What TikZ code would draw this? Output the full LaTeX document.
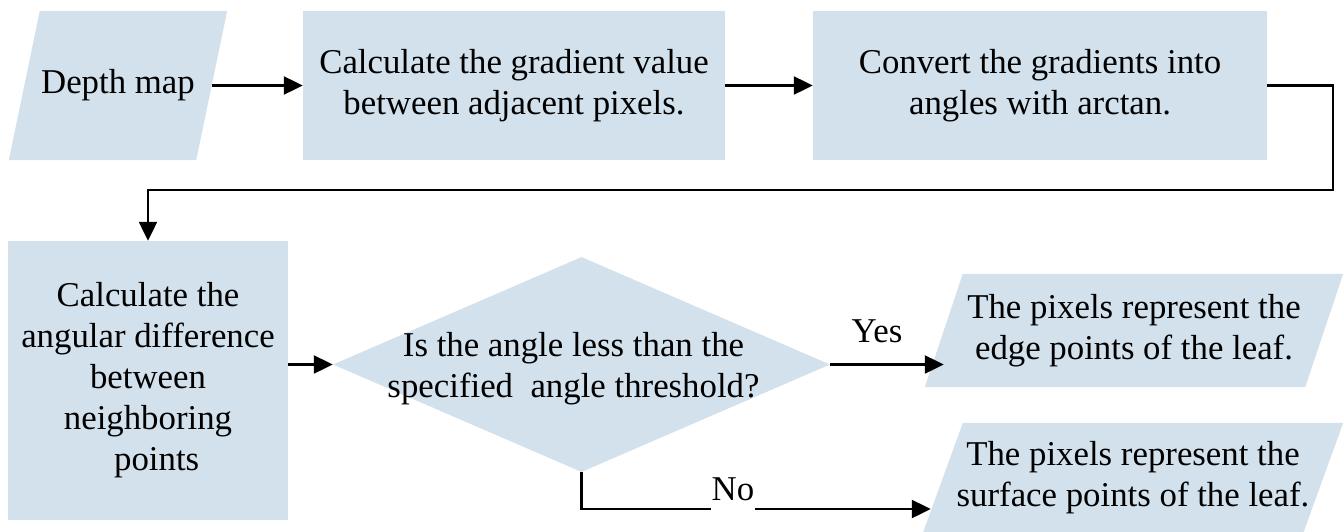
\documentclass[tikz,border=0pt]{standalone}
\usepackage{fontspec}
\setmainfont{Liberation Serif}
\usetikzlibrary{arrows.meta,shapes.geometric,calc,backgrounds}
\definecolor{boxfill}{RGB}{210,225,236}
% filled parallelogram around a named node: #1 = node, #2 = half the horizontal slant
\newcommand{\slantfill}[2]{%
  \fill[boxfill] ($(#1.south west)+(-#2,0)$) -- ($(#1.north west)+(#2,0)$)
    -- ($(#1.north east)+(#2,0)$) -- ($(#1.south east)+(-#2,0)$) -- cycle;}
\begin{document}
\begin{tikzpicture}[x=1pt,y=-1pt,
  every node/.style={font=\fontsize{34.8}{41}\selectfont},
  proc/.style={rectangle, fill=boxfill, inner sep=0pt, align=center},
  io/.style={rectangle, inner sep=0pt, align=center},
  dec/.style={diamond, fill=boxfill, inner sep=1pt},
  txt/.style={align=center, inner sep=0pt},
  arr/.style={-{Triangle[length=19pt,width=18pt]}, line width=2.2pt},
]
\useasboundingbox (0,0) rectangle (1344,531);

% input: depth map
\node[io, minimum width=187pt, minimum height=149pt] (dm) at (118,85.5) {Depth map};

% processing steps
\node[proc, minimum width=422pt, minimum height=149pt] (grad) at (514,85.5)
  {Calculate the gradient value\\between adjacent pixels.};
\node[proc, minimum width=454pt, minimum height=149pt] (conv) at (1040,85.5)
  {Convert the gradients into\\angles with arctan.};
\node[proc, minimum width=280pt, minimum height=279pt] (diff) at (148,380.5)
  {Calculate the\\angular difference\\between\\neighboring\ \\\ \ points};

% decision
\node[dec, minimum width=497pt, minimum height=215pt] (dec) at (581.5,364.5) {\strut};
\node[txt] (dectext) at ($(dec.center)+(-8,4)$)
  {Is the angle less than the\\specified\ \ angle threshold?};

% outputs
\node[io, minimum width=380pt, minimum height=113pt] (edge) at (1134,330.5)
  {The pixels represent the\\edge points of the leaf.};
\node[io, minimum width=380pt, minimum height=110pt] (surf) at (1133,478)
  {The pixels represent the\\surface points of the leaf.};

\begin{scope}[on background layer]
  \slantfill{dm}{15.5}
  \slantfill{edge}{19}
  \slantfill{surf}{20}
\end{scope}

% connectors
\coordinate (turn) at (1333,190);
\draw[arr] (dm.east) -- (grad.west);
\draw[arr] (grad.east) -- (conv.west);
\draw[arr] (conv.east) -| (turn) -| (diff.north);
\draw[arr] (diff.east |- dec.west) -- (dec.west);
\draw[arr] (dec.east) -- (dec.east -| edge.west);
\draw[arr] (dec.south) |- ($(surf.west)+(-12,31)$);

\node[anchor=base] (yes) at (877,342) {Yes};
\node[anchor=base, fill=white, inner xsep=1pt, inner ysep=0pt, text depth=11pt] (no) at (733,500) {No};
\end{tikzpicture}
\end{document}
